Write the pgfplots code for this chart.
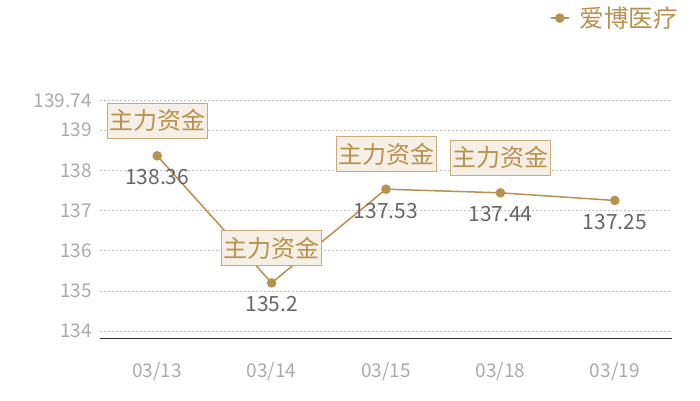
\documentclass[border=0pt]{standalone}
\usepackage{pgfplots}
\pgfplotsset{compat=1.18}
\usepackage{fontspec}
\setmainfont{Noto Sans CJK SC}
\definecolor{gold}{HTML}{B8914F}
\definecolor{boxfill}{HTML}{F5EFE6}
\definecolor{boxdraw}{HTML}{C9AB7A}
\definecolor{tickgray}{HTML}{AAAAAA}
\definecolor{valgray}{HTML}{666666}
\definecolor{axisdark}{HTML}{333333}
\begin{document}
\begin{tikzpicture}[x=1pt,y=1pt]
\path[use as bounding box] (0,0) rectangle (700,400);
\begin{axis}[
  at={(100pt,62pt)}, anchor=south west,
  scale only axis, width=572pt, height=237.7pt,
  xmin=-0.5, xmax=4.5, ymin=133.83, ymax=139.74,
  axis x line*=bottom, axis y line*=left,
  x axis line style={draw=axisdark, line width=0.8pt, -},
  y axis line style={draw=none},
  major tick length=0pt,
  xtick={0,1,2,3,4},
  xticklabels={03/13,03/14,03/15,03/18,03/19},
  ytick={134,135,136,137,138,139,139.74},
  yticklabels={134,135,136,137,138,139,139.74},
  xticklabel style={font=\fontsize{19}{19}\selectfont, text=tickgray, inner sep=0pt, anchor=center, yshift=-34pt},
  yticklabel style={font=\fontsize{19}{19}\selectfont, text=tickgray, inner sep=0pt, anchor=east, xshift=-8pt},
  ymajorgrids,
  grid style={dash pattern=on 2pt off 2pt, color=black!25, line width=0.6pt},
  clip=false,
  legend style={at={(1.01,1.346)}, anchor=east, draw=none, fill=none,
    font=\fontsize{24.5}{24.5}\selectfont, text=gold, inner sep=0pt,
    nodes={inner sep=0pt},
    /tikz/every odd column/.append style={column sep=10pt}},
  legend image code/.code={\draw[gold, line width=1.5pt] (0pt,0pt)--(18pt,0pt); \fill[gold] (9pt,0pt) circle (4pt);},
]
\addplot[gold, line width=1.5pt, mark=*, mark size=4pt, mark options={fill=gold, draw=gold},
  point meta=explicit symbolic,
  nodes near coords,
  every node near coord/.style={font=\fontsize{21}{21}\selectfont, text=valgray, anchor=center, yshift=-21.5pt}]
  coordinates {(0,138.36)[138.36] (1,135.2)[135.2] (2,137.53)[137.53] (3,137.44)[137.44] (4,137.25)[137.25]};
\addlegendentry{爱博医疗}
\addplot[draw=none, mark=none, forget plot,
  nodes near coords={主力资金},
  every node near coord/.style={font=\fontsize{24}{24}\selectfont, text=gold, fill=boxfill, draw=boxdraw, line width=1pt,
    inner xsep=2pt, inner ysep=0pt, minimum height=35pt, anchor=center, yshift=35pt}]
  coordinates {(0,138.36) (1,135.2) (2,137.53) (3,137.44)};
\end{axis}
\end{tikzpicture}
\end{document}
